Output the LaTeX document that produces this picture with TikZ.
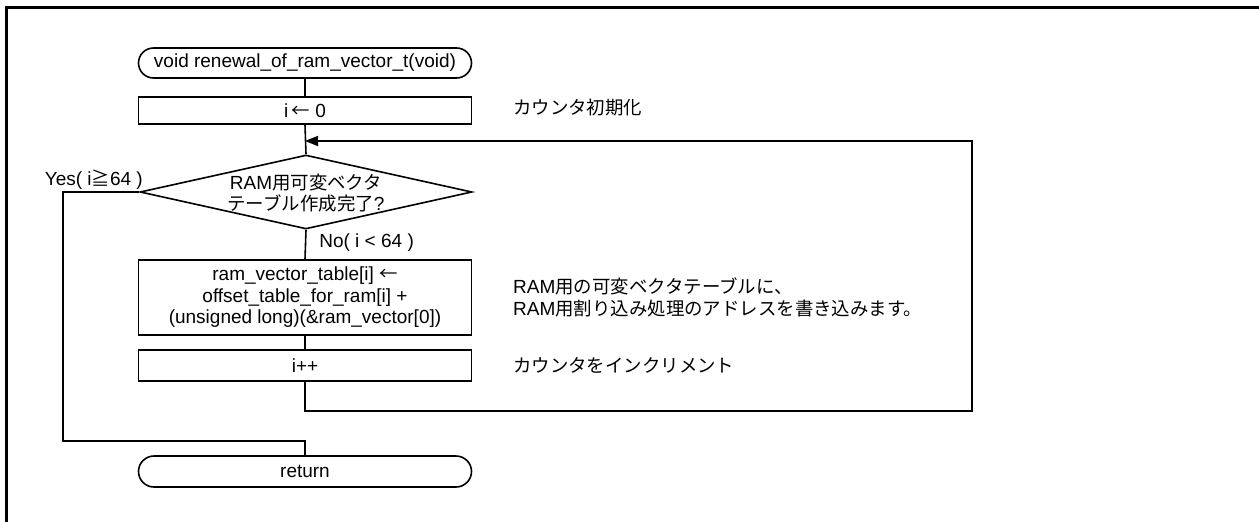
\documentclass[tikz,border=0pt]{standalone}
\usepackage{fontspec}
\setmainfont{Liberation Sans}
\newfontfamily\jp[Scale=0.97]{Noto Sans CJK JP}
\usetikzlibrary{shapes.geometric,shapes.misc,arrows.meta}

\begin{document}
\begin{tikzpicture}[x=1pt,y=-1pt,font=\fontsize{19}{21.5}\selectfont] % Флоучарт
\tikzstyle{myline} = [line width=1.6pt] % connector style
\tikzstyle{myterm} = [rounded rectangle, draw, myline, minimum width=333pt, minimum height=30pt, inner sep=0pt] % start / return
\tikzstyle{mybox} = [rectangle, draw, myline, minimum width=333pt, inner sep=0pt, align=center] % processing step
\tikzstyle{mycond} = [diamond, draw, myline, minimum width=332pt, minimum height=74pt, inner sep=0pt] % decision
\tikzstyle{mynote} = [anchor=west, inner sep=0pt, align=left] % comment on the right
\tikzstyle{myarrow} = [myline, -{Triangle[length=13pt,width=10pt]}]

\useasboundingbox (0,0) rectangle (1259,522);
\draw[line width=3pt] (6,522) -- (6,7) -- (1259,7); % рамка

%
\node[myterm] (start) at (305,63) {void renewal\_of\_ram\_vector\_t(void)};
\node[mybox, minimum height=27pt] (init) at (305,110.5) {i\,{\jp ←} 0};
\node[mycond, label={[align=center, yshift=-1pt]center:RAM{\jp 用可変ベクタ}\\{\jp テーブル作成完了}?}] (cond) at (306,192) {};
\node[mybox, minimum height=75pt] (body) at (305,297.5) {ram\_vector\_table[i] {\jp ←}\\offset\_table\_for\_ram[i] +\\(unsigned long)(\&ram\_vector[0])};
\node[mybox, minimum height=31pt] (inc) at (305,365.5) {i++};
\node[myterm, minimum height=31pt] (stop) at (305,471.5) {return};
%
\node[mynote] (n1) at (513,108) {\jp カウンタ初期化};
\node[mynote] (n2) at (513,297.5) {RAM{\jp 用の可変ベクタテーブルに、}\\RAM{\jp 用割り込み処理のアドレスを書き込みます。}};
\node[mynote] (n3) at (513,365) {\jp カウンタをインクリメント};
%
\coordinate (join) at (305,141);
\coordinate (loopR) at (972,411);
\coordinate (yesL) at (63,441);
\draw[myline] (start) -- (init);
\draw[myline] (init.south) -- (cond.north);
\draw[myline] (cond.south) -- node[pos=0.45, anchor=west, inner sep=0pt, xshift=13pt] {No( i {\textless} 64 )} (body.north);
\draw[myline] (body) -- (inc);
\draw[myarrow] (inc.south) |- (loopR) |- (join);
\draw[myline] (cond.west) -| (yesL) -| (stop.north);
\node[anchor=east, inner sep=0pt] (yes) at (143,180) {Yes( i{\jp ≧}64 )};
\end{tikzpicture}
\end{document}
